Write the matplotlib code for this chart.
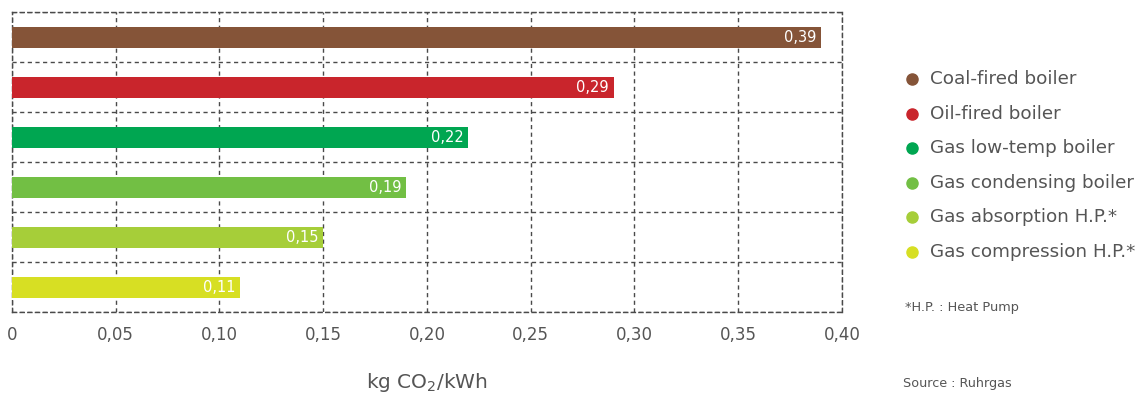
import numpy as np
from matplotlib import pyplot as plt
from matplotlib.lines import Line2D

plt.rcParams['font.family'] = ['DejaVu Sans']

categories = ['Coal-fired boiler', 'Oil-fired boiler', 'Gas low-temp boiler',
              'Gas condensing boiler', 'Gas absorption H.P.*', 'Gas compression H.P.*']
values = [0.39, 0.29, 0.22, 0.19, 0.15, 0.11]
colors = ['#855438', '#C9252C', '#00A651', '#72BF44', '#A6CE39', '#D7DF23']
xticks = [0, 0.05, 0.10, 0.15, 0.20, 0.25, 0.30, 0.35, 0.40]
xticklabels = ['0', '0,05', '0,10', '0,15', '0,20', '0,25', '0,30', '0,35', '0,40']

W, H = 1143, 393
fig = plt.figure(figsize=(W / 100, H / 100), dpi=100, facecolor='w')
ax = fig.add_axes([12 / W, (H - 312) / H, 830 / W, 300 / H])

txt = '#555555'
grid = '#4a4a4a'
dash = (0, (3, 2.5))

y = np.arange(len(values))
ax.barh(y, values, height=0.42, color=colors, zorder=3)
for yi, v in zip(y, values):
    ax.text(v - 0.0025, yi, ('%.2f' % v).replace('.', ','), ha='right', va='center',
            color='white', fontsize=10.5, zorder=4)

ax.set_xlim(0, 0.40)
ax.set_ylim(len(values) - 0.5, -0.5)
ax.set_xticks(xticks)
ax.set_xticklabels(xticklabels, fontsize=12, color=txt)
ax.set_yticks(np.arange(len(values) + 1) - 0.5)
ax.set_yticklabels([])
ax.tick_params(axis='both', which='both', length=0, pad=10)
ax.grid(True, which='major', linestyle=dash, color=grid, linewidth=1, zorder=0)
for s in ax.spines.values():
    s.set_linestyle(dash)
    s.set_color(grid)
    s.set_linewidth(1)

fig.text(427 / W, 1 - 382 / H, 'kg CO$_2$/kWh', ha='center', va='center',
         fontsize=14.5, color=txt)

# legend drawn by hand so rows sit where the reference has them
for i, (lab, c) in enumerate(zip(categories, colors)):
    yy = 1 - (79 + 34.6 * i) / H
    fig.add_artist(Line2D([912 / W], [yy], marker='o', linestyle='none', markersize=8,
                          markerfacecolor=c, markeredgecolor=c,
                          transform=fig.transFigure))
    fig.text(930 / W, yy, lab, ha='left', va='center', fontsize=13.2, color=txt)

fig.text(905 / W, 1 - 307 / H, '*H.P. : Heat Pump', ha='left', va='center',
         fontsize=9.3, color=txt)
fig.text(903 / W, 1 - 383 / H, 'Source : Ruhrgas', ha='left', va='center',
         fontsize=9.2, color=txt)

fig.savefig('out.png', dpi=100, facecolor='w')
